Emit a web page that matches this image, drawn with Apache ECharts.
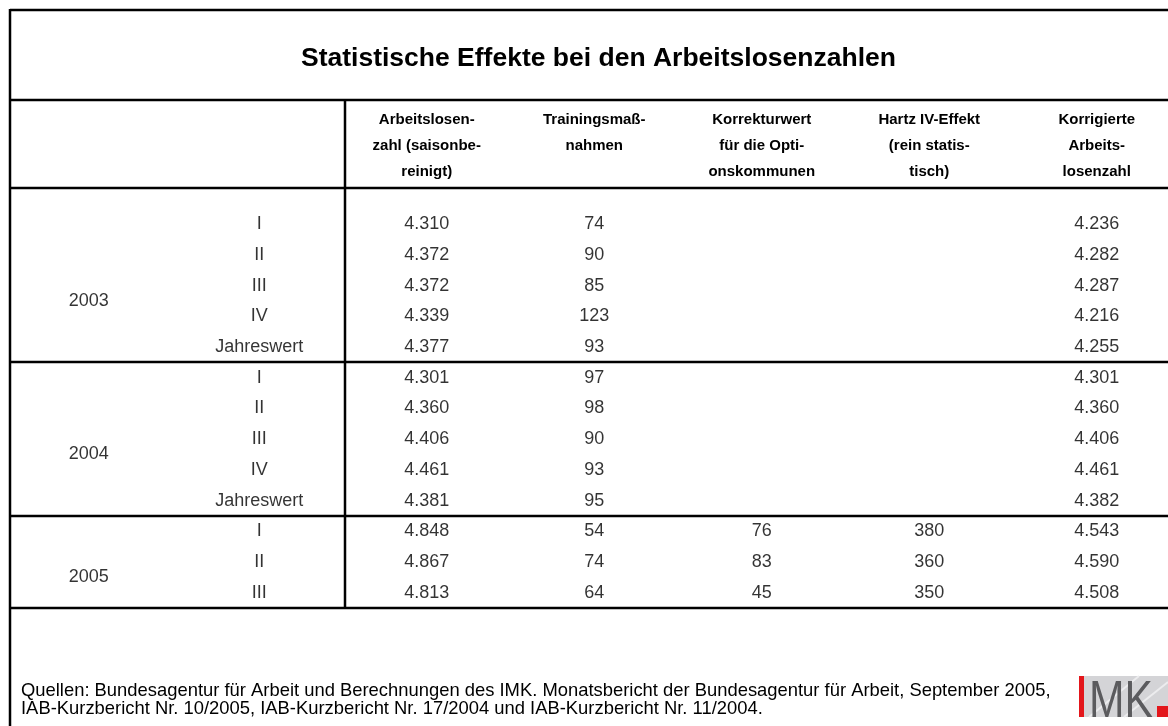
<!DOCTYPE html>
<html>
<head>
<meta charset="utf-8">
<script src="https://cdn.jsdelivr.net/npm/echarts@6/dist/echarts.min.js"></script>
<style>
html,body{margin:0;padding:0;background:#fff}
#main{width:1168px;height:726px}
</style>
</head>
<body>
<div id="main"></div>
<script>
var FONT = 'Liberation Sans, Arial, sans-serif';

//Spalten
var columns = ['jahr', 'quartal', 'alz', 'training', 'korrektur', 'hartz', 'korrigiert'];
var headers = [
	'',
	'',
	'Arbeitslosen-\nzahl (saisonbe-\nreinigt)',
	'Trainingsmaß-\nnahmen\n ',
	'Korrekturwert\nfür die Opti-\nonskommunen',
	'Hartz IV-Effekt\n(rein statis-\ntisch)',
	'Korrigierte\nArbeits-\nlosenzahl'
];

//Zeilen
var rowKeys = ['2003 I', '2003 II', '2003 III', '2003 IV', '2003 J', '2004 I', '2004 II', '2004 III', '2004 IV', '2004 J', '2005 I', '2005 II', '2005 III'];
var quarters = ['I', 'II', 'III', 'IV', 'Jahreswert', 'I', 'II', 'III', 'IV', 'Jahreswert', 'I', 'II', 'III'];
var years = ['2003', '2004', '2005'];
var yearRows = [2, 7, 11];      // Zeile, an der das Jahr steht
var groupEnds = [4, 9, 12];     // letzte Zeile je Jahr -> Trennlinie

//Werte in Tausend
var arbeitslose = [4310, 4372, 4372, 4339, 4377, 4301, 4360, 4406, 4461, 4381, 4848, 4867, 4813];
var training = [74, 90, 85, 123, 93, 97, 98, 90, 93, 95, 54, 74, 64];
var korrektur = [null, null, null, null, null, null, null, null, null, null, 76, 83, 45];
var hartz = [null, null, null, null, null, null, null, null, null, null, 380, 360, 350];
var korrigiert = [4236, 4282, 4287, 4216, 4255, 4301, 4360, 4406, 4461, 4382, 4543, 4590, 4508];

function fmt(n){
	if(n >= 1000){
		return Math.floor(n / 1000) + '.' + String(n % 1000).padStart(3, '0');
	}
	return String(n);
}

function cellData(col, arr){
	var out = [];
	for(var i = 0; i < arr.length; i++){
		if(arr[i] != null) out.push([col, i, arr[i]]);
	}
	return out;
}

function textSeries(name, data, extra){
	var s = {
		name: name,
		type: 'scatter',
		data: data,
		symbolSize: 1,
		itemStyle: { color: 'rgba(0,0,0,0)' },
		silent: true,
		z: 5,
		label: {
			show: true,
			position: 'inside',
			color: '#000',
			fontFamily: FONT,
			fontSize: 18,
			formatter: function(p){ return typeof p.value[2] === 'number' ? fmt(p.value[2]) : p.value[2]; }
		}
	};
	if(extra) echarts.util.merge(s, extra, true);
	return s;
}

var chart = echarts.init(document.getElementById('main'));

var option = {
	backgroundColor: '#fff',
	animation: false,
	textStyle: { fontFamily: FONT },
	title: {
		text: 'Statistische Effekte bei den Arbeitslosenzahlen',
		left: 296,
		top: 40,
		textStyle: { fontFamily: FONT, fontSize: 26.5, fontWeight: 'bold', color: '#000' }
	},
	grid: { left: 8, right: -12.5, top: 209, bottom: 118, outerBoundsMode: 'none', containLabel: false },
	xAxis: {
		type: 'category',
		position: 'top',
		data: columns,
		axisLine: { show: false },
		axisTick: { show: false },
		splitLine: { show: false },
		axisLabel: {
			interval: 0,
			margin: 102,
			verticalAlign: 'top',
			color: '#000',
			fontFamily: FONT,
			fontSize: 15,
			fontWeight: 'bold',
			lineHeight: 26,
			formatter: function(v, i){ return headers[i]; }
		}
	},
	yAxis: {
		type: 'category',
		inverse: true,
		data: rowKeys,
		axisLine: { show: false },
		axisTick: { show: false },
		axisLabel: { show: false },
		splitLine: { show: false }
	},
	series: [
		textSeries('Jahr', years.map(function(y, i){ return [0, yearRows[i], y]; }), { label: { offset: [-3, 15] } }),
		textSeries('Quartal', quarters.map(function(q, i){ return [1, i, q]; })),
		textSeries('Arbeitslosenzahl', cellData(2, arbeitslose)),
		textSeries('Trainingsmaßnahmen', cellData(3, training)),
		textSeries('Korrekturwert', cellData(4, korrektur)),
		textSeries('Hartz IV-Effekt', cellData(5, hartz)),
		textSeries('Korrigierte Arbeitslosenzahl', cellData(6, korrigiert)),
		{
			name: 'Trennlinien',
			type: 'custom',
			silent: true,
			data: groupEnds.map(function(r){ return [0, r]; }),
			renderItem: function(params, api){
				var p = api.coord([0, api.value(1)]);
				var h = api.size([0, 1])[1];
				var y = Math.round(p[1] + h / 2);
				return {
					type: 'line',
					shape: { x1: 10, y1: y, x2: 1168, y2: y },
					style: { stroke: '#000', lineWidth: 2.5 }
				};
			}
		}
	],
	graphic: [
		// Rahmen
		{ type: 'line', shape: { x1: 10, y1: 10, x2: 1168, y2: 10 }, style: { stroke: '#000', lineWidth: 2.5 } },
		{ type: 'line', shape: { x1: 10, y1: 9, x2: 10, y2: 726 }, style: { stroke: '#000', lineWidth: 2.5 } },
		{ type: 'line', shape: { x1: 10, y1: 100, x2: 1168, y2: 100 }, style: { stroke: '#000', lineWidth: 2.5 } },
		{ type: 'line', shape: { x1: 10, y1: 188, x2: 1168, y2: 188 }, style: { stroke: '#000', lineWidth: 2.5 } },
		{ type: 'line', shape: { x1: 345, y1: 100, x2: 345, y2: 608 }, style: { stroke: '#000', lineWidth: 2.5 } },
		// Quelle
		{
			type: 'text',
			left: 21,
			top: 682,
			style: {
				text: 'Quellen: Bundesagentur für Arbeit und Berechnungen des IMK. Monatsbericht der Bundesagentur für Arbeit, September 2005,\nIAB-Kurzbericht Nr. 10/2005, IAB-Kurzbericht Nr. 17/2004 und IAB-Kurzbericht Nr. 11/2004.',
				font: '18.4px ' + FONT,
				lineHeight: 18,
				fill: '#000'
			}
		},
		// IMK-Logo
		{
			type: 'group',
			x: 1079,
			y: 676,
			children: [
				{ type: 'rect', shape: { x: 0, y: 0, width: 89, height: 41 }, style: { fill: '#d4d4d7' } },
				{ type: 'line', shape: { x1: 10, y1: 41, x2: 60, y2: 0 }, style: { stroke: '#ececee', lineWidth: 2 } },
				{ type: 'line', shape: { x1: 45, y1: 41, x2: 89, y2: 6 }, style: { stroke: '#ececee', lineWidth: 2 } },
				{ type: 'rect', shape: { x: 0, y: 0, width: 5, height: 41 }, style: { fill: '#e3161b' } },
				{
					type: 'text',
					x: 10,
					y: 1,
					scaleX: 0.82,
					style: { text: 'MK', font: '52px ' + FONT, fill: '#5b5b5e', verticalAlign: 'top' }
				},
				{ type: 'rect', shape: { x: 78, y: 30, width: 11, height: 11 }, style: { fill: '#e3161b' } }
			]
		}
	]
};

chart.setOption(option);
</script>
</body>
</html>
